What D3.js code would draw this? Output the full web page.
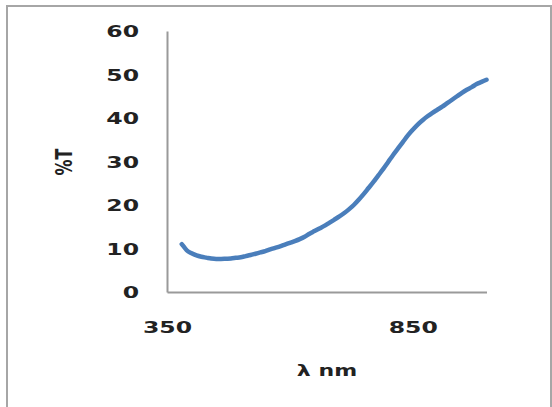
<!DOCTYPE html>
<html>
<head>
<meta charset="utf-8">
<script src="https://cdn.jsdelivr.net/npm/d3@7"></script>
<style>
  html, body { margin: 0; padding: 0; background: #fff; }
  svg { display: block; }
  text { font-family: "DejaVu Sans", Verdana, sans-serif; font-weight: bold; fill: #222; }
</style>
</head>
<body>
<script>
// Transmittance spectrum: wavelength (nm) vs %T
const wavelengths = [
  380, 385, 390, 400, 410, 420, 430, 440, 450, 460, 470, 480, 490, 500,
  510, 520, 530, 540, 550, 560, 570, 580, 590, 600, 610, 620, 630, 640,
  650, 660, 670, 680, 690, 700, 710, 720, 730, 740, 750, 760, 770, 780,
  790, 800, 810, 820, 830, 840, 850, 860, 870, 880, 890, 900, 910, 920,
  930, 940, 950, 960, 970, 980, 990, 1000
];
const transmittance = [
  11.0, 10.3, 9.6, 8.9, 8.4, 8.1, 7.9, 7.7, 7.6, 7.6, 7.65, 7.7, 7.85, 8.0,
  8.25, 8.5, 8.8, 9.1, 9.4, 9.8, 10.15, 10.5, 10.9, 11.3, 11.7, 12.15, 12.7, 13.4,
  14.0, 14.6, 15.2, 15.9, 16.6, 17.3, 18.1, 19.0, 20.0, 21.2, 22.5, 23.9, 25.3, 26.8,
  28.3, 29.9, 31.5, 33.0, 34.5, 36.0, 37.3, 38.5, 39.5, 40.4, 41.2, 41.9, 42.6, 43.4,
  44.2, 45.0, 45.8, 46.5, 47.1, 47.8, 48.3, 48.8
];
const xTickValues = [350, 850];
const yTickValues = [0, 10, 20, 30, 40, 50, 60];
const xTitle = "λ nm";
const yTitle = "%T";

const W = 552, H = 407;
const plot = { left: 167, right: 486.5, top: 31, bottom: 292 };
const stretch = 1.47; // glyphs are drawn wide

const svg = d3.select("body").append("svg").attr("width", W).attr("height", H);

// chart frame
svg.append("rect")
  .attr("x", 7).attr("y", 6).attr("width", 544).attr("height", 420)
  .attr("fill", "none").attr("stroke", "#a6a6a6").attr("stroke-width", 2);

const x = d3.scaleLinear().domain([350, 1000]).range([plot.left, plot.right]);
const y = d3.scaleLinear().domain([0, 60]).range([plot.bottom, plot.top]);

// y axis
const gy = svg.append("g")
  .attr("transform", `translate(${plot.left},0)`)
  .call(d3.axisLeft(y).tickValues(yTickValues).tickSize(0).tickPadding(28).tickFormat(d3.format("d")));
gy.select(".domain").attr("stroke", "#9a9a9a").attr("stroke-width", 2);
gy.selectAll(".tick text")
  .attr("x", 0).attr("dy", "0.36em")
  .attr("text-anchor", "end")
  .attr("transform", `translate(-28,0) scale(${stretch},1)`)
  .style("font-size", "16px").style("font-family", null);

// x axis
const gx = svg.append("g")
  .attr("transform", `translate(0,${plot.bottom})`)
  .call(d3.axisBottom(x).tickValues(xTickValues).tickSize(0).tickFormat(d3.format("d")));
gx.select(".domain").attr("stroke", "#9a9a9a").attr("stroke-width", 2);
gx.selectAll(".tick text")
  .attr("y", 0).attr("dy", "0.36em")
  .attr("text-anchor", "middle")
  .attr("transform", `translate(0,35.5) scale(${stretch},1)`)
  .style("font-size", "16px").style("font-family", null);
svg.selectAll(".tick line").remove();

// axis titles
svg.append("text")
  .attr("transform", `translate(327,376) scale(${stretch},1)`)
  .attr("text-anchor", "middle")
  .style("font-size", "15px")
  .text(xTitle);

svg.append("text")
  .attr("transform", `translate(72,162) scale(${stretch},1) rotate(-90)`)
  .attr("text-anchor", "middle")
  .style("font-size", "16px")
  .text(yTitle);

// spectrum curve
const pts = wavelengths.map((w, i) => [w, transmittance[i]]);
svg.append("path")
  .datum(pts)
  .attr("fill", "none")
  .attr("stroke", "#4a7ebb")
  .attr("stroke-width", 4.5)
  .attr("stroke-linecap", "round")
  .attr("stroke-linejoin", "round")
  .attr("d", d3.line().x(d => x(d[0])).y(d => y(d[1])).curve(d3.curveMonotoneX));
</script>
</body>
</html>
